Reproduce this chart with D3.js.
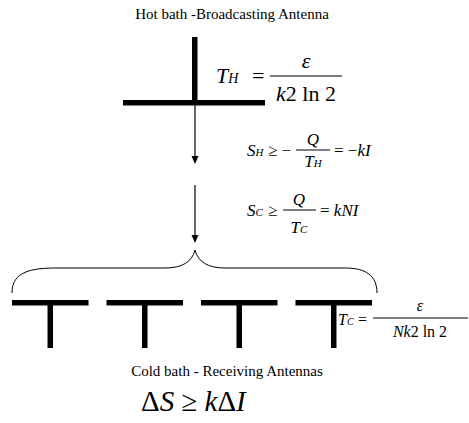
<!DOCTYPE html>
<html>
<head>
<meta charset="utf-8">
<script src="https://cdn.jsdelivr.net/npm/d3@7"></script>
</head>
<body style="margin:0;background:#fff">
<script>
// Diagram content
const titles = ["Hot bath -Broadcasting Antenna", "Cold bath - Receiving Antennas"];
const receivers = ["R1", "R2", "R3", "R4"];
const arrows = [[105, 164], [185, 243]];

const width = 469, height = 423;
const FONT = "Liberation Serif";
const svg = d3.select("body").append("svg")
    .attr("width", width)
    .attr("height", height);

// x scale for the receiving antennas
const xr = d3.scaleBand()
    .domain(receivers)
    .range([12, 372])
    .paddingInner(0.19)
    .paddingOuter(0);

// Titles
svg.append("text").attr("x", 232).attr("y", 19).attr("text-anchor", "middle")
    .attr("font-family", FONT).attr("font-size", 15).text(titles[0]);
svg.append("text").attr("x", 227).attr("y", 376).attr("text-anchor", "middle")
    .attr("font-family", FONT).attr("font-size", 15).text(titles[1]);

// Broadcasting antenna
const cx = 195;
svg.append("rect").attr("x", cx - 3).attr("y", 37).attr("width", 5.5).attr("height", 68);
svg.append("rect").attr("x", 123).attr("y", 100).attr("width", 142).attr("height", 5.5);

// Arrows
arrows.forEach(a => {
    svg.append("line").attr("x1", cx).attr("x2", cx).attr("y1", a[0]).attr("y2", a[1] - 6)
        .attr("stroke", "#000").attr("stroke-width", 1.2);
    svg.append("path").attr("d", `M${cx - 3.5},${a[1] - 8}L${cx + 3.5},${a[1] - 8}L${cx},${a[1]}Z`);
});

// Brace
svg.append("path")
    .attr("d", "M12,293 C12,275 25,268 55,268 L165,268 C182,268 192,262 195,250 " +
               "C198,262 208,268 225,268 L345,268 C365,268 377,275 377,293")
    .attr("fill", "none").attr("stroke", "#000").attr("stroke-width", 1);

// Receiving antennas
const rg = svg.selectAll(".rx").data(receivers).enter().append("g").attr("class", "rx");
rg.append("rect").attr("x", d => xr(d)).attr("y", 300).attr("width", xr.bandwidth()).attr("height", 5.5);
rg.append("rect").attr("x", d => xr(d) + xr.bandwidth() / 2 - 2.75).attr("y", 302).attr("width", 5.5).attr("height", 46);

// formula: each run is its own <text>, laid out by measured width
// parts = [[string, italic, sizeFactor], ...]
function formula(x, y, size, parts, anchor) {
    const g = svg.append("g");
    let cur = 0;
    parts.forEach(p => {
        const t = g.append("text").attr("x", cur).attr("y", y)
            .attr("font-family", FONT)
            .attr("font-style", p[1] ? "italic" : "normal")
            .attr("font-size", Math.round(size * (p[2] || 1)))
            .attr("xml:space", "preserve")
            .style("white-space", "pre")
            .text(p[0]);
        cur += t.node().getComputedTextLength();
    });
    const off = anchor === "middle" ? x - cur / 2 : x;
    g.attr("transform", `translate(${off},0)`);
    return g;
}
function bar(x1, x2, y) {
    svg.append("line").attr("x1", x1).attr("x2", x2).attr("y1", y).attr("y2", y)
        .attr("stroke", "#000").attr("stroke-width", 1);
}

// T_H = eps / (k 2 ln 2)
formula(216, 83, 22, [["T", true], ["H", true, 0.65]]);
formula(252, 83, 22, [["=", false]]);
bar(270, 342, 76);
formula(306, 68, 22, [["ε", true]], "middle");
formula(306, 101, 22, [["k", true], ["2 ln 2", false]], "middle");

// S_H >= -Q/T_H = -kI
formula(247, 156, 17, [["S", true], ["H", true, 0.65]]);
formula(268, 156, 17, [["≥ −", false]]);
bar(296, 330, 150);
formula(313, 145, 17, [["Q", true]], "middle");
formula(313, 167, 17, [["T", true], ["H", true, 0.65]], "middle");
formula(334, 156, 17, [["= −", false], ["kI", true]]);

// S_C >= Q/T_C = kNI
formula(247, 216, 17, [["S", true], ["C", true, 0.65]]);
formula(268, 216, 17, [["≥", false]]);
bar(283, 316, 210);
formula(299, 205, 17, [["Q", true]], "middle");
formula(299, 233, 17, [["T", true], ["C", true, 0.65]], "middle");
formula(320, 216, 17, [["= ", false], ["kNI", true]]);

// T_C = eps / (N k 2 ln 2)
formula(338, 325, 16, [["T", true], ["C", true, 0.65]]);
formula(358, 325, 16, [["=", false]]);
bar(373, 468, 318);
formula(420, 311, 16, [["ε", true]], "middle");
formula(420, 337, 16, [["Nk", true], ["2 ln 2", false]], "middle");

// Delta S >= k Delta I
formula(141, 411, 29, [["Δ", false], ["S", true], [" ≥ ", false], ["k", true], ["Δ", false], ["I", true]]);
</script>
</body>
</html>
